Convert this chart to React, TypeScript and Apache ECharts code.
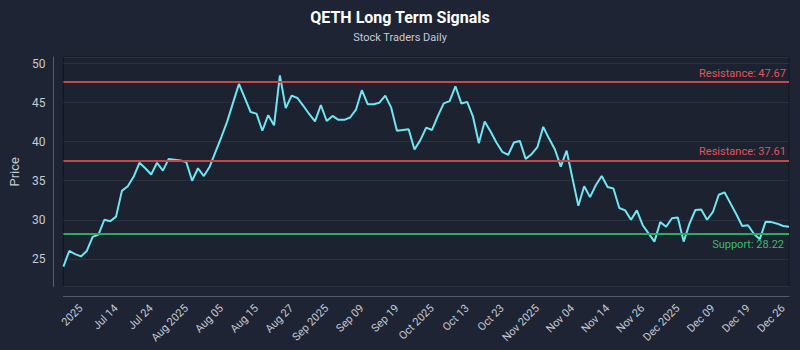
import React, { useEffect, useRef } from "react";
import * as echarts from "echarts";

// Daily closing prices
const PRICES: number[] = [
  24.0, 26.0, 25.6, 25.3, 26.0, 27.8, 28.1, 30.0, 29.8, 30.4,
  33.7, 34.3, 35.5, 37.3, 36.6, 35.8, 37.3, 36.3, 37.8, 37.7,
  37.6, 37.4, 35.0, 36.6, 35.6, 36.8, 38.7, 40.6, 42.6, 45.0,
  47.4, 45.6, 43.8, 43.6, 41.4, 43.4, 42.1, 48.5, 44.3, 45.9,
  45.6, 44.6, 43.55, 42.6, 44.7, 42.65, 43.3, 42.8, 42.8, 43.1,
  44.1, 46.6, 44.8, 44.8, 45.0, 45.9, 44.4, 41.4, 41.5, 41.6,
  39.0, 40.2, 41.8, 41.5, 43.3, 44.9, 45.2, 47.1, 44.9, 45.1,
  43.2, 39.8, 42.6, 41.3, 39.9, 38.7, 38.3, 39.9, 40.1, 37.8,
  38.4, 39.3, 41.9, 40.4, 39.0, 36.8, 38.85, 35.3, 31.8, 34.3,
  32.9, 34.45, 35.6, 34.2, 34.0, 31.5, 31.2, 30.0, 31.2, 29.3,
  28.25, 27.2, 29.7, 29.1, 30.2, 30.3, 27.2, 29.5, 31.25, 31.3,
  30.0, 31.0, 33.2, 33.5, 32.1, 30.7, 29.2, 29.3, 28.2, 27.5,
  29.75, 29.7, 29.5, 29.2, 29.1,
];

const TICK_LABELS: string[] = [
  "2025", "Jul 14", "Jul 24", "Aug 2025", "Aug 05", "Aug 15", "Aug 27",
  "Sep 2025", "Sep 09", "Sep 19", "Oct 2025", "Oct 13", "Oct 23",
  "Nov 2025", "Nov 04", "Nov 14", "Nov 26", "Dec 2025", "Dec 09",
  "Dec 19", "Dec 26",
];
const TICK_START = 3;
const TICK_STEP = 6;

const RESISTANCE: number[] = [47.67, 37.61];
const SUPPORT: number[] = [28.22];

const CATEGORIES: string[] = PRICES.map((_, i) => String(i));

const FONT = "Roboto, 'Noto Sans', sans-serif";
const TEXT = "#c5cad4";

export default function App() {
  const ref = useRef<HTMLDivElement>(null);

  useEffect(() => {
    if (!ref.current) return;
    const chart = echarts.init(ref.current, undefined, { renderer: "svg" });

    const isTick = (i: number) => i >= TICK_START && (i - TICK_START) % TICK_STEP === 0;

    const markData: any[] = [
      ...RESISTANCE.map((v) => ({
        yAxis: v,
        lineStyle: { color: "#c4474c", width: 2, type: "solid" },
        label: {
          formatter: `Resistance: ${v.toFixed(2)}`,
          position: "insideEndTop",
          color: "#e0555b",
          fontSize: 11,
          fontFamily: FONT,
          distance: 3,
        },
      })),
      ...SUPPORT.map((v) => ({
        yAxis: v,
        lineStyle: { color: "#2fa862", width: 2, type: "solid" },
        label: {
          formatter: `Support: ${v.toFixed(2)}`,
          position: "insideEndBottom",
          color: "#3dbb6e",
          fontSize: 11,
          fontFamily: FONT,
          distance: 5,
        },
      })),
    ];

    chart.setOption({
      animation: false,
      backgroundColor: "#1e2433",
      textStyle: { fontFamily: FONT },
      title: {
        text: "QETH Long Term Signals",
        subtext: "Stock Traders Daily",
        left: "center",
        top: 4,
        itemGap: 7,
        textStyle: { color: "#ffffff", fontSize: 16, fontWeight: "bold", fontFamily: FONT },
        subtextStyle: { color: TEXT, fontSize: 11, fontFamily: FONT },
      },
      grid: {
        left: 61,
        right: 11,
        top: 57,
        bottom: 63.5,
        show: true,
        backgroundColor: "#1c2230",
        borderColor: "#11161f",
        borderWidth: 1,
      },
      xAxis: {
        type: "category",
        data: CATEGORIES,
        boundaryGap: false,
        offset: 10,
        axisLine: { show: true, lineStyle: { color: "#565c6b", width: 1 } },
        axisTick: { show: false },
        splitLine: { show: false },
        axisLabel: {
          interval: (i: number) => isTick(i),
          formatter: (_v: string, i: number) =>
            isTick(i) ? TICK_LABELS[(i - TICK_START) / TICK_STEP] ?? "" : "",
          rotate: 45,
          color: TEXT,
          fontSize: 11,
          margin: 10,
          fontFamily: FONT,
        },
      },
      yAxis: {
        type: "value",
        min: 21.45,
        max: 50.85,
        offset: 10,
        name: "Price",
        nameLocation: "middle",
        nameGap: 30,
        nameTextStyle: { color: TEXT, fontSize: 13, fontFamily: FONT },
        axisLine: { show: true, lineStyle: { color: "#565c6b", width: 1 } },
        axisTick: { show: false },
        axisLabel: {
          color: TEXT,
          fontSize: 12,
          margin: 8,
          showMinLabel: false,
          showMaxLabel: false,
          fontFamily: FONT,
        },
        splitLine: { show: true, lineStyle: { color: "#283041", width: 1 } },
      },
      series: [
        {
          type: "line",
          data: PRICES,
          symbol: "none",
          lineStyle: { color: "#6fe6f2", width: 2 },
          markLine: {
            symbol: "none",
            silent: true,
            data: markData,
          },
        },
      ],
    });

    return () => chart.dispose();
  }, []);

  return (
    <div
      ref={ref}
      style={{ position: "fixed", left: 0, top: 0, width: 800, height: 350 }}
    />
  );
}
